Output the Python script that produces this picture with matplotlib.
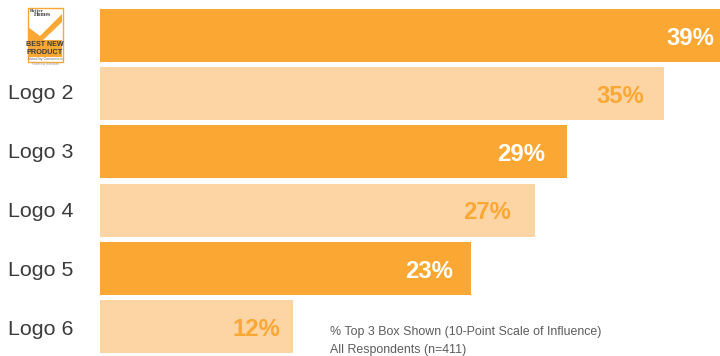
import matplotlib.pyplot as plt
from matplotlib.patches import Rectangle, Polygon

plt.rcParams['font.family'] = ['Liberation Sans', 'DejaVu Sans']

logos = ['', 'Logo 2', 'Logo 3', 'Logo 4', 'Logo 5', 'Logo 6']
valores = [39, 35, 29, 27, 23, 12]
rotulos = ['39%', '35%', '29%', '27%', '23%', '12%']
# distancia do rotulo ate o fim da barra, em pixels
recuo = [14, 20, 22, 24, 18, 13]

laranja = '#FBA733'
claro = '#FDD5A5'
cores = [laranja, claro, laranja, claro, laranja, claro]
cores_txt = ['white', laranja, 'white', laranja, 'white', laranja]

fig = plt.figure(figsize=(7.2, 3.56), dpi=100)

# fundo em coordenadas de pixel, para o texto e o selo
fundo = fig.add_axes([0, 0, 1, 1])
fundo.set_xlim(0, 720)
fundo.set_ylim(356, 0)
fundo.axis('off')

# barras: 0 fica em x=100 e cada ponto vale 16.11 px
ax = fig.add_axes([100 / 720, 0, 620 / 720, 1])
ax.patch.set_alpha(0)
ax.set_xlim(0, 620 / 16.11)
ax.set_ylim(5.507, -0.61)
ax.axis('off')
ax.barh(range(len(valores)), valores, height=0.91, color=cores)

for i, v in enumerate(valores):
    ax.annotate(rotulos[i], (v, i), xytext=(-recuo[i] * 0.72, -2),
                textcoords='offset points', ha='right', va='center',
                fontsize=17.2, fontweight='bold', color=cores_txt[i],
                annotation_clip=False)
    if logos[i]:
        # os nomes tem passo um pouco maior que o das barras
        fundo.text(8, 34.7 + 59 * i, logos[i], ha='left', va='center',
                   fontsize=15.4, color='#3a3a3a')

# selo do primeiro produto
fundo.add_patch(Rectangle((27.5, 7.5), 35, 54, fc='white', ec=laranja, lw=1))
fundo.add_patch(Polygon([(28, 27), (40, 36), (62, 14), (62, 22), (42, 41),
                         (28, 41)], fc=laranja, ec='none'))
fundo.add_patch(Rectangle((28, 40), 34, 16.5, fc=laranja, ec='none'))
fundo.text(30, 11, 'Better', fontsize=3.8, family='Liberation Serif',
           fontweight='bold', ha='left', va='center', color='#444444')
fundo.text(34, 15, 'Homes', fontsize=4.2, family='Liberation Serif',
           fontweight='bold', ha='left', va='center', color='#444444')
fundo.text(45, 44.5, 'BEST NEW', fontsize=5.1, fontweight='bold', ha='center',
           va='center', color='#3a3a3a')
fundo.text(45, 52, 'PRODUCT', fontsize=5.3, fontweight='bold', ha='center',
           va='center', color='#3a3a3a')
fundo.text(45, 58.7, 'Voted by Consumers', fontsize=2.7, ha='center',
           va='center', color='#666666')
fundo.text(45, 63.5, 'Powered by BrandSpark', fontsize=1.8, ha='center',
           va='center', color='#999999')

fundo.text(330.5, 332.5, '% Top 3 Box Shown (10-Point Scale of Influence)',
           fontsize=8.9, color='#5c5c5c', ha='left', va='center')
fundo.text(330.5, 349.5, 'All Respondents (n=411)', fontsize=8.9, color='#5c5c5c',
           ha='left', va='center')

fig.savefig('out.png', dpi=100)
